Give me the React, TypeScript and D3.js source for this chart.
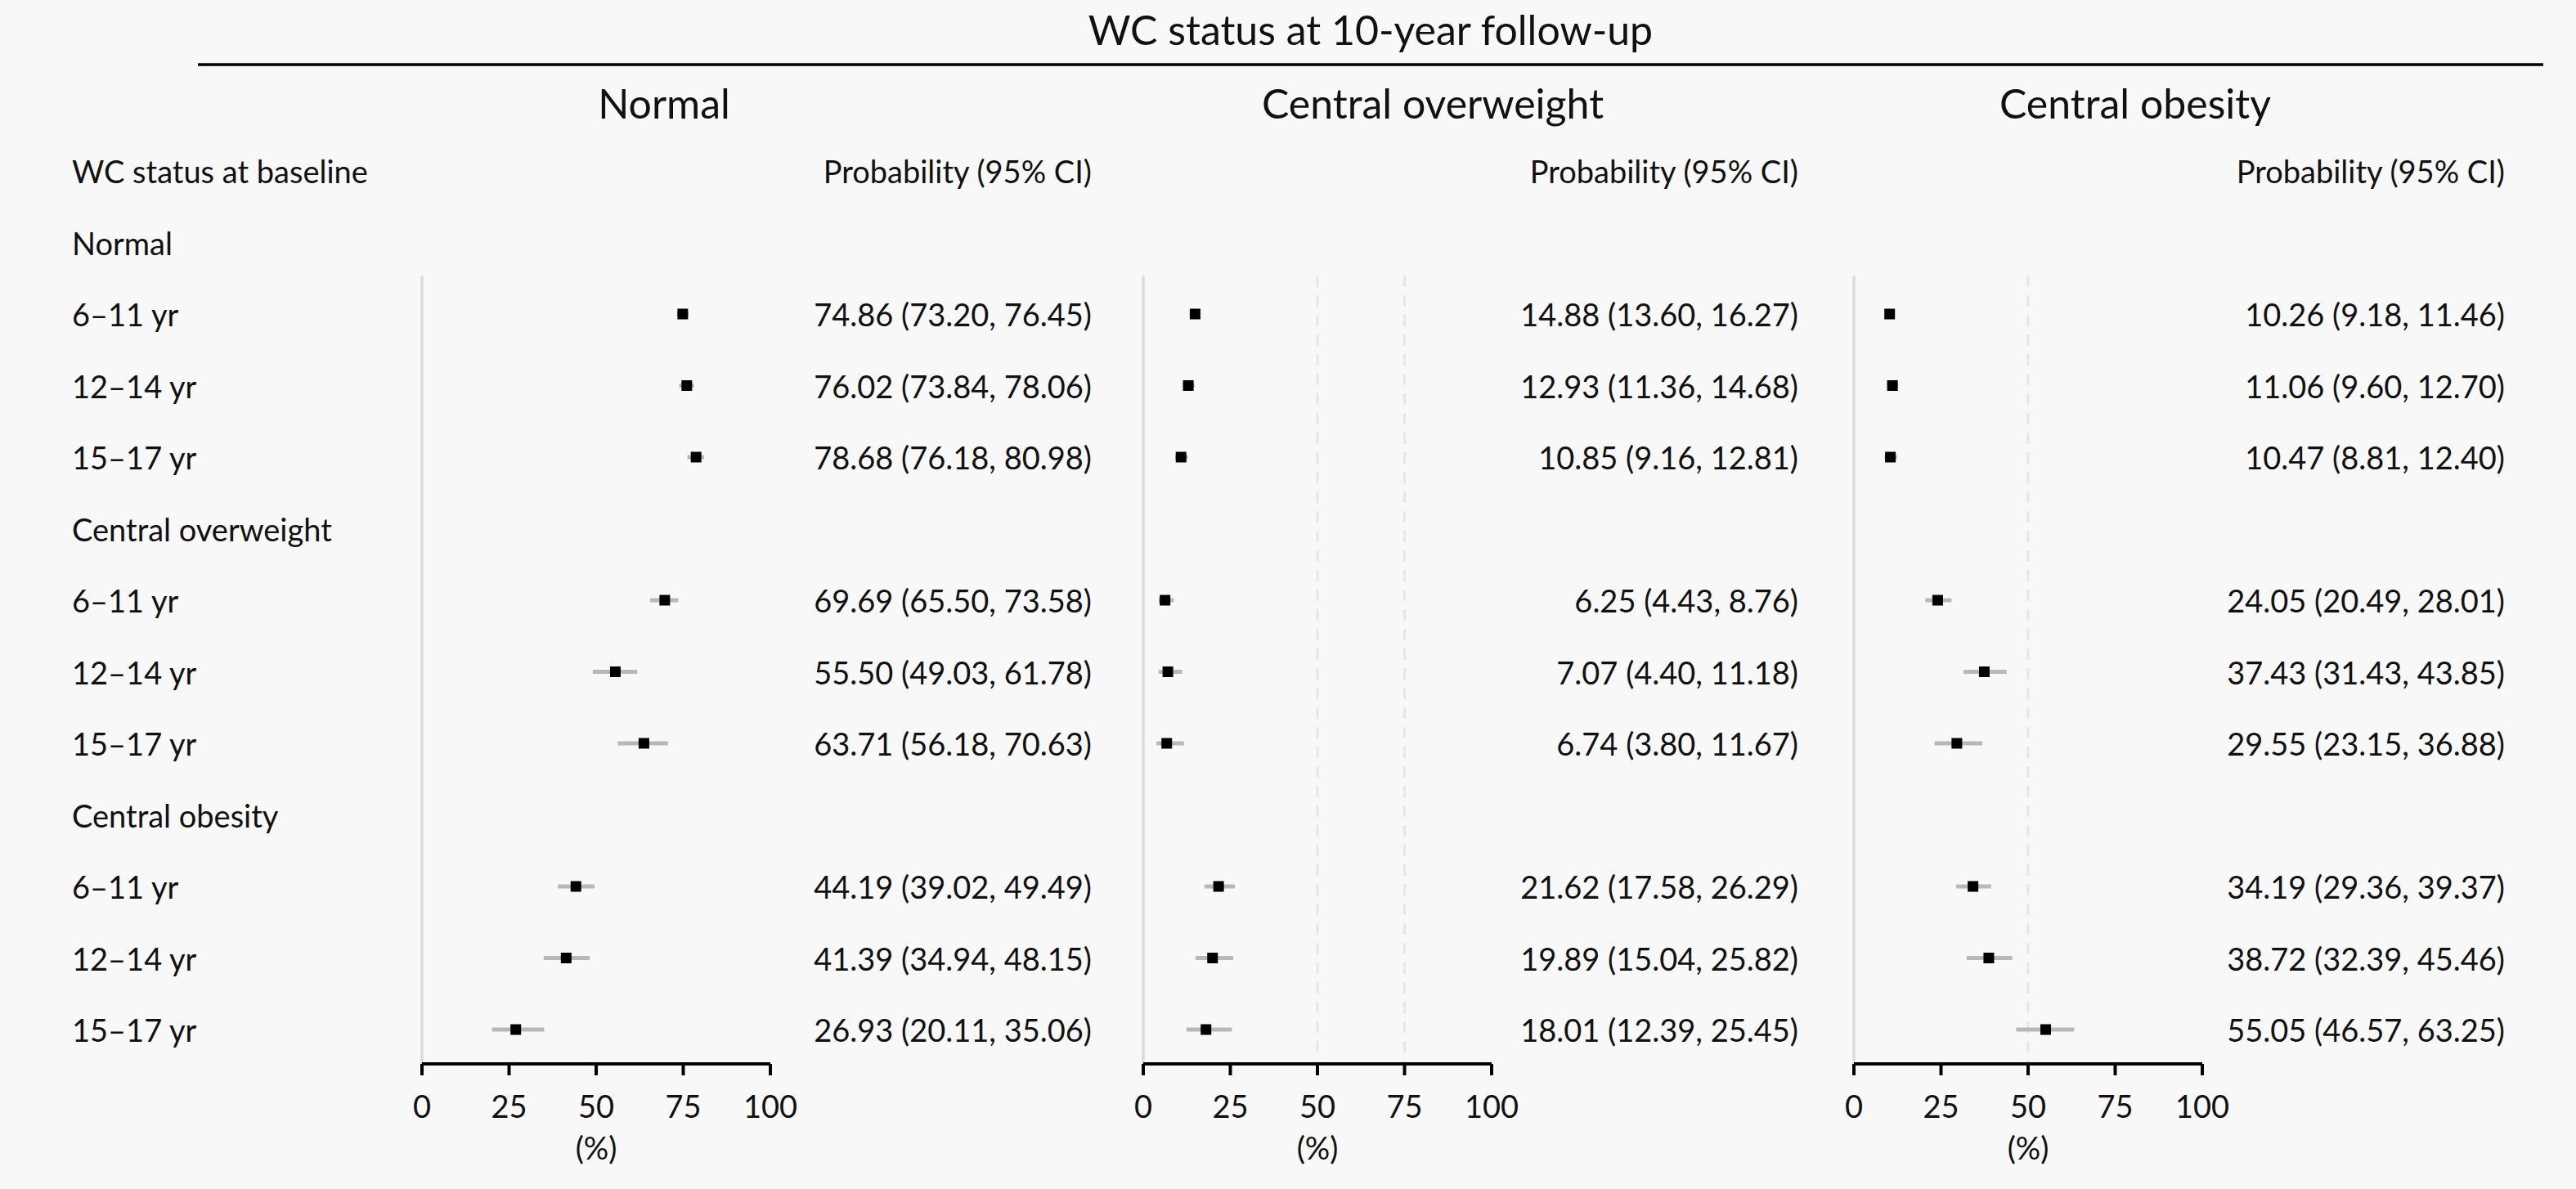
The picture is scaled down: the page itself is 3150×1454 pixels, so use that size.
import React from "react";
import * as d3 from "d3";

const outcomes = ["Normal", "Central overweight", "Central obesity"];
const baselineGroups = ["Normal", "Central overweight", "Central obesity"];
const ageGroups = ["6–11 yr", "12–14 yr", "15–17 yr"];

const normalEst = [74.86, 76.02, 78.68, 69.69, 55.5, 63.71, 44.19, 41.39, 26.93];
const normalLo = [73.2, 73.84, 76.18, 65.5, 49.03, 56.18, 39.02, 34.94, 20.11];
const normalHi = [76.45, 78.06, 80.98, 73.58, 61.78, 70.63, 49.49, 48.15, 35.06];

const overweightEst = [14.88, 12.93, 10.85, 6.25, 7.07, 6.74, 21.62, 19.89, 18.01];
const overweightLo = [13.6, 11.36, 9.16, 4.43, 4.4, 3.8, 17.58, 15.04, 12.39];
const overweightHi = [16.27, 14.68, 12.81, 8.76, 11.18, 11.67, 26.29, 25.82, 25.45];

const obesityEst = [10.26, 11.06, 10.47, 24.05, 37.43, 29.55, 34.19, 38.72, 55.05];
const obesityLo = [9.18, 9.6, 8.81, 20.49, 31.43, 23.15, 29.36, 32.39, 46.57];
const obesityHi = [11.46, 12.7, 12.4, 28.01, 43.85, 36.88, 39.37, 45.46, 63.25];

const xTicks = [0, 25, 50, 75, 100];
const refLines = [[], [50, 75], [50]];

const W = 3150;
const H = 1454;
const FONT = "Lato, 'Open Sans', sans-serif";

const series = [
  { est: normalEst, lo: normalLo, hi: normalHi },
  { est: overweightEst, lo: overweightLo, hi: overweightHi },
  { est: obesityEst, lo: obesityLo, hi: obesityHi },
];

const panelX0 = [516, 1398, 2267];
const panelW = 426;
const textRight = [1335, 2199, 3063];
const subtitleX = [812, 1752, 2611];

// rows: 0 header, then group label + 3 age rows per group
type Row = { label: string; item: number | null };
const rows: Row[] = [{ label: "WC status at baseline", item: null }];
baselineGroups.forEach((g, gi) => {
  rows.push({ label: g, item: null });
  ageGroups.forEach((a, ai) => rows.push({ label: a, item: gi * 3 + ai }));
});

const y = d3.scaleLinear().domain([0, rows.length - 1]).range([209, 1259]);
const axisY = 1301;
const bodySize = 38;

export default function App() {
  return (
    <svg
      width={W}
      height={H}
      viewBox={`0 0 ${W} ${H}`}
      style={{ position: "absolute", left: 0, top: 0, display: "block", background: "#f8f8f8" }}
      fontFamily={FONT}
    >
      <rect x={0} y={0} width={W} height={H} fill="#f8f8f8" />
      <text x={1676} y={36} textAnchor="middle" dominantBaseline="central" fontSize={50} fill="#111">
        WC status at 10-year follow-up
      </text>
      <line x1={242} x2={3110} y1={79} y2={79} stroke="#000" strokeWidth={3.5} />

      {rows.map((r, i) => (
        <text key={"rl" + i} x={88} y={y(i)} dominantBaseline="central" fontSize={bodySize} fill="#111">
          {r.label}
        </text>
      ))}

      {outcomes.map((o, p) => {
        const x = d3.scaleLinear().domain([0, 100]).range([panelX0[p], panelX0[p] + panelW]);
        const s = series[p];
        return (
          <g key={"p" + p}>
            <text x={subtitleX[p]} y={126} textAnchor="middle" dominantBaseline="central" fontSize={50} fill="#111">
              {o}
            </text>
            <text x={textRight[p]} y={y(0)} textAnchor="end" dominantBaseline="central" fontSize={bodySize} fill="#111">
              Probability (95% CI)
            </text>
            <line x1={x(0)} x2={x(0)} y1={337} y2={axisY} stroke="#dcdcdc" strokeWidth={3.5} />
            {refLines[p].map((v) => (
              <line
                key={"ref" + v}
                x1={x(v)}
                x2={x(v)}
                y1={337}
                y2={axisY}
                stroke="#e6e6e6"
                strokeWidth={3}
                strokeDasharray="14 10"
              />
            ))}
            {rows.map((r, i) => {
              if (r.item === null) return null;
              const k = r.item;
              const yy = y(i);
              return (
                <g key={"r" + i}>
                  <line x1={x(s.lo[k])} x2={x(s.hi[k])} y1={yy} y2={yy} stroke="#b8b8b8" strokeWidth={5} />
                  <rect x={x(s.est[k]) - 6.5} y={yy - 6.5} width={13} height={13} fill="#000" />
                  <text
                    x={textRight[p]}
                    y={yy}
                    textAnchor="end"
                    dominantBaseline="central"
                    fontSize={bodySize}
                    fill="#111"
                  >
                    {`${s.est[k].toFixed(2)} (${s.lo[k].toFixed(2)}, ${s.hi[k].toFixed(2)})`}
                  </text>
                </g>
              );
            })}
            <line x1={x(0)} x2={x(100)} y1={axisY} y2={axisY} stroke="#000" strokeWidth={4} />
            {xTicks.map((t) => (
              <g key={"t" + t}>
                <line x1={x(t)} x2={x(t)} y1={axisY} y2={axisY + 14} stroke="#000" strokeWidth={4} />
                <text x={x(t)} y={1352} textAnchor="middle" dominantBaseline="central" fontSize={bodySize} fill="#111">
                  {t}
                </text>
              </g>
            ))}
            <text x={x(50)} y={1403} textAnchor="middle" dominantBaseline="central" fontSize={bodySize} fill="#111">
              (%)
            </text>
          </g>
        );
      })}
    </svg>
  );
}
